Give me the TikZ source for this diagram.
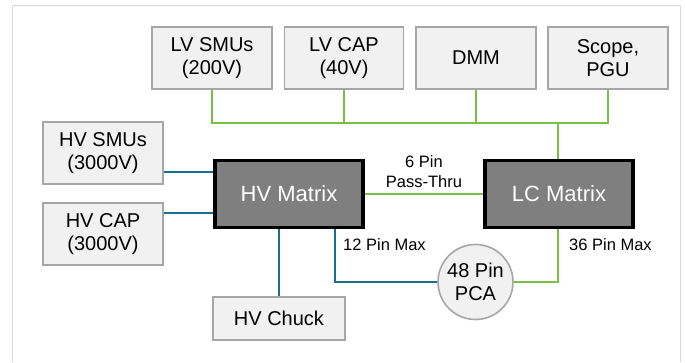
\documentclass[tikz,border=0pt]{standalone}
\usepackage{fontspec}
\setmainfont{Liberation Sans}
\usetikzlibrary{calc}

\definecolor{boxgray}{HTML}{F1F1F1}
\definecolor{edgegray}{HTML}{A6A6A6}
\definecolor{matgray}{HTML}{7F7F7F}
\definecolor{lvgreen}{HTML}{7AC143}
\definecolor{hvteal}{HTML}{1A6E8E}

\begin{document}
\begin{tikzpicture}[x=1pt, y=-1pt,
    instr/.style={draw=edgegray, line width=1.6pt, fill=boxgray, minimum width=120pt, minimum height=62pt,
        align=center, inner sep=0pt, font=\fontsize{20}{23}\selectfont},
    matrixbox/.style={draw=black, line width=3.5pt, fill=matgray, minimum width=148pt, minimum height=67pt,
        text=white, inner sep=0pt, font=\fontsize{22}{24}\selectfont},
    pinlabel/.style={align=center, inner sep=0pt, text=black, font=\fontsize{16.5}{20}\selectfont},
    lvline/.style={lvgreen, line width=2pt},
    hvline/.style={hvteal, line width=2pt}]

    \useasboundingbox (0,0) rectangle (685,362);
    \draw[line width=1pt, black!15] (12,362) -- (12,5) -- (680,5) -- (680,362);

    % instruments on top
    \node[instr] (lvsmu) at (212, 58) {LV SMUs\\(200V)};
    \node[instr, minimum width=119pt] (lvcap) at (344, 58) {LV CAP\\(40V)};
    \node[instr] (dmm) at (476, 58) {DMM};
    \node[instr] (scope) at (608, 58) {Scope,\\PGU};

    \node[instr] (hvsmu) at (103, 153) {HV SMUs\\(3000V)};
    \node[instr] (hvcap) at (103, 234) {HV CAP\\(3000V)};
    \node[instr, minimum width=132pt, minimum height=43pt] (chuck) at (279, 318.5) {HV Chuck};

    \node[matrixbox] (hvmat) at (289, 194) {HV Matrix};
    \node[matrixbox] (lcmat) at (559, 194) {LC Matrix};

    \node[circle, draw=edgegray, line width=1.6pt, fill=boxgray, minimum size=75pt, inner sep=0pt,
        align=center, font=\fontsize{20}{22.5}\selectfont] (pca) at (475.5, 282) {48 Pin\\PCA};

    % green bus
    \coordinate (bus) at (0, 123);
    \draw[lvline] (lvsmu.south) -- (lvsmu.south |- bus) -- (scope.south |- bus) -- (scope.south);
    \draw[lvline] (lvcap.south) -- (lvcap.south |- bus);
    \draw[lvline] (dmm.south) -- (dmm.south |- bus);
    \draw[lvline] ([xshift=-1pt]lcmat.north) -- ([xshift=-1pt]lcmat.north |- bus);

    \draw[lvline] (hvmat.east) -- node[pinlabel, above=5pt] (pass) {6 Pin\\Pass-Thru} (lcmat.west);
    \draw[lvline] ([xshift=-1pt]lcmat.south) |- (pca.east);

    % HV side
    \draw[hvline] ([yshift=22pt]hvmat.west) -- ([yshift=22pt]hvmat.west -| hvsmu.east);
    \draw[hvline] ([yshift=-19pt]hvmat.west) -- ([yshift=-19pt]hvmat.west -| hvcap.east);
    \draw[hvline] (chuck.north |- hvmat.south) -- (chuck.north);
    \draw[hvline] ([xshift=46pt]hvmat.south) |- (pca.west);

    \node[pinlabel, anchor=west] (max12) at (343, 245) {12 Pin Max};
    \node[pinlabel, anchor=west] (max36) at (569, 245) {36 Pin Max};

\end{tikzpicture}
\end{document}
